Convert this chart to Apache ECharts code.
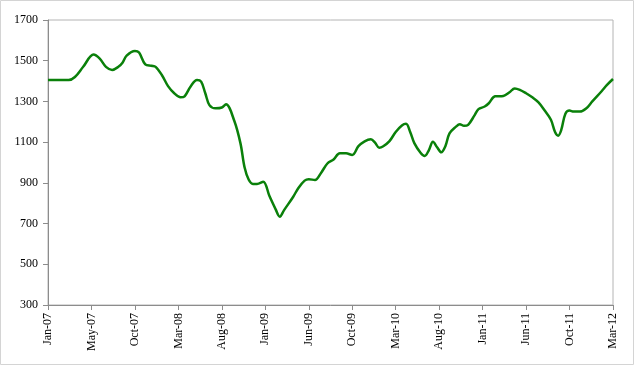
<!DOCTYPE html>
<html>
<head>
<meta charset="utf-8">
<script src="https://cdn.jsdelivr.net/npm/echarts@6/dist/echarts.min.js"></script>
<style>html,body{margin:0;padding:0;background:#fff}#c{width:634px;height:365px}</style>
</head>
<body>
<div id="c"></div>
<script>
// x positions are week indices from the first week of Jan 2007
var tickLabels = ['Jan-07','May-07','Oct-07','Mar-08','Aug-08','Jan-09','Jun-09','Oct-09','Mar-10','Aug-10','Jan-11','Jun-11','Oct-11','Mar-12'];
var weeks = [0,10,13,17,22,25,28,31,34,36,38,42,44,47,50,52,55,58,61,64,66,69,72,74,76,78,81,84,86,90,93,95,97,99,101,104,107,110,112,114,118.5,121,124,126,129,132,135,138,141,144,147,150,153,156,158,160,162,165,168,171,173,175,177,180,182,184,186,188,190,192,194,197,199,201,203,206,208,211,213,216,220,223,225.5,228,231,234,237,240,243,245,246.5,248,250,252,254,257,260,263,267.5,270,273];
var values = [1405,1405,1420,1470,1530,1510,1470,1455,1470,1490,1525,1548,1540,1482,1475,1470,1430,1375,1340,1320,1325,1375,1405,1397,1340,1282,1266,1270,1286,1205,1094,975,915,895,895,906,835,770,734,765,832,875,911,918,914,950,995,1015,1045,1045,1037,1080,1104,1114,1098,1073,1080,1105,1150,1182,1190,1150,1095,1048,1032,1060,1102,1075,1050,1080,1143,1175,1188,1180,1185,1230,1262,1275,1291,1325,1327,1345,1364,1357,1340,1320,1295,1255,1210,1150,1132,1160,1240,1255,1250,1250,1265,1300,1350,1380,1410];
var labelStep = 21;

var data = weeks.map(function(w, i){ return [w, values[i]]; });
var chart = echarts.init(document.getElementById('c'));
var font = 'Liberation Serif, Times New Roman, serif';
chart.setOption({
  animation: false,
  graphic: [{type:'rect', shape:{x:0.5,y:0.5,width:633,height:364}, style:{fill:null, stroke:'#d4d4d4', lineWidth:1}, silent:true}],
  grid: {left:48, right:21, top:20, bottom:60, show:true, borderColor:'#b4b4b4', borderWidth:1},
  xAxis: {
    type:'value', min:0, max:273, interval:labelStep,
    axisLine:{show:true, onZero:false, lineStyle:{color:'#8c8c8c', width:1}},
    axisTick:{show:true, length:5, lineStyle:{color:'#8c8c8c'}},
    splitLine:{show:false},
    axisLabel:{rotate:90, margin:8, fontFamily:font, fontSize:12, color:'#000',
      showMaxLabel:true, showMinLabel:true,
      formatter:function(v){ var k=Math.round(v/labelStep); return tickLabels[k]||''; }}
  },
  yAxis: {
    type:'value', min:300, max:1700, interval:200,
    axisLine:{show:true, lineStyle:{color:'#8c8c8c', width:1}},
    axisTick:{show:true, length:5, lineStyle:{color:'#8c8c8c'}},
    splitLine:{show:false},
    axisLabel:{margin:10, fontFamily:font, fontSize:12, color:'#000',
      formatter:function(v){ return String(v); }}
  },
  series: [{
    type:'line', data:data, smooth:0.35, showSymbol:false,
    lineStyle:{color:'#0a800a', width:2.5}
  }]
});
</script>
</body>
</html>
